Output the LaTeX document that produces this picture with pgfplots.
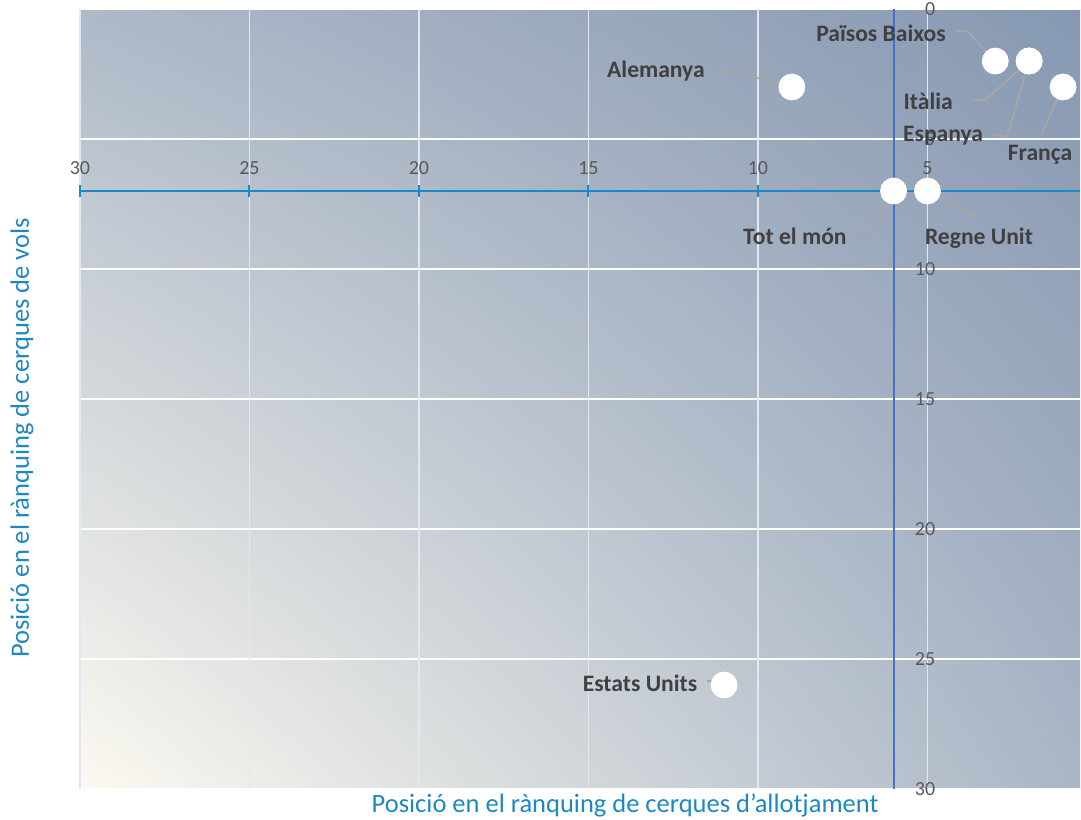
\documentclass[border=0pt]{standalone}
\usepackage{fontspec}
\setmainfont{Carlito}
\usepackage{pgfplots}
\pgfplotsset{compat=1.18}
\usetikzlibrary{shadings}
\definecolor{bgTL}{HTML}{AEB9C8}
\definecolor{bgTR}{HTML}{8798B2}
\definecolor{bgBL}{HTML}{FCF9F0}
\definecolor{bgBR}{HTML}{AAB6C6}
\definecolor{axblue}{HTML}{1B8AC4}
\definecolor{vblue}{HTML}{4472C4}
\definecolor{lbl}{HTML}{404040}
\definecolor{tickc}{HTML}{595959}
\definecolor{lead}{HTML}{A6A6A6}
\definecolor{ttl}{HTML}{1E88C0}
\definecolor{vgrid}{HTML}{E2E8F0}
\begin{document}
\begin{tikzpicture}
\begin{axis}[name=ax, scale only axis, width=500pt, height=390pt,
 xmin=0.5, xmax=30, ymin=0, ymax=30, x dir=reverse, y dir=reverse,
 axis lines=none, ticks=none, clip=false]
% background
\shade[upper left=bgTL, upper right=bgTR, lower left=bgBL, lower right=bgBR]
  (rel axis cs:0,0) rectangle (rel axis cs:1,1);
% grid
\pgfplotsinvokeforeach{0,5,10,15,20,25,30}{
  \draw[white, line width=1pt] (axis cs:30,#1) -- (axis cs:0.5,#1);
}
\pgfplotsinvokeforeach{30,25,20,15,10,5}{
  \draw[vgrid, line width=0.6pt] (axis cs:#1,0) -- (axis cs:#1,30);
}
% axis lines
\draw[axblue, line width=1pt] (axis cs:30,7) -- (axis cs:0.5,7);
\pgfplotsinvokeforeach{30,25,20,15,10,5}{
  \draw[axblue, line width=1pt] ([yshift=-3pt]axis cs:#1,7) -- ([yshift=3pt]axis cs:#1,7);
  \node[anchor=base, inner sep=0, text=tickc, font=\fontsize{10}{12}\selectfont] at ([yshift=8.5pt]axis cs:#1,7) {#1};
}
\draw[vblue, line width=1pt] (axis cs:6,0) -- (axis cs:6,30);
\pgfplotsinvokeforeach{0,5,10,15,20,25,30}{
  \node[anchor=east, inner sep=0, text=tickc, font=\fontsize{10}{12}\selectfont] at ([xshift=21pt]axis cs:6,#1) {#1};
}
% data
\addplot[only marks, mark=*, mark size=6.5pt, mark options={fill=white, draw=white}]
  coordinates {(3,2) (2,2) (2,2) (1,3) (9,3) (6,7) (5,7) (11,26)};
% leaders
\tikzset{ld/.style={lead, line width=0.9pt}}
\draw[ld] (axis cs:4.16,0.85) -- (axis cs:3.83,0.85) -- (axis cs:3,2);
\draw[ld] (axis cs:3.63,3.5) -- (axis cs:3.30,3.5) -- (axis cs:2,2);
\draw[ld] (axis cs:3.01,4.88) -- (axis cs:2.65,4.88) -- (axis cs:2,2);
\draw[ld] (axis cs:1.65,4.85) -- (axis cs:1,3);
\draw[ld] (axis cs:11.27,2.35) -- (axis cs:10.91,2.35) -- (axis cs:9,3);
\draw[ld] (axis cs:7.05,8.69) -- (axis cs:6.70,8.65) -- (axis cs:6,7);
\draw[ld] (axis cs:3.51,8.04) -- (axis cs:5,7);
\draw[ld] (axis cs:11.50,25.85) -- (axis cs:11.27,25.85) -- (axis cs:11,26);
% labels
\tikzset{dl/.style={inner sep=0, text=lbl, font=\bfseries\fontsize{11.8}{14}\selectfont}}
\node[dl] at (axis cs:6.37,0.92) {Països Baixos};
\node[dl] at (axis cs:4.98,3.54) {Itàlia};
\node[dl] at (axis cs:4.54,4.88) {Espanya};
\node[dl] at (axis cs:1.68,5.62) {França};
\node[dl] at (axis cs:13.01,2.38) {Alemanya};
\node[dl] at (axis cs:8.91,8.73) {Tot el món};
\node[dl] at (axis cs:3.48,8.81) {Regne Unit};
\node[dl] at (axis cs:13.48,25.92) {Estats Units};
% titles
\node[rotate=90, inner sep=0, text=ttl, font=\fontsize{13.25}{16}\selectfont] at (axis cs:31.71,16.5) {Posició en el rànquing de cerques de vols};
\node[inner sep=0, text=ttl, font=\fontsize{13.25}{16}\selectfont] at (axis cs:13.92,30.65) {Posició en el rànquing de cerques d’allotjament};
\end{axis}
\pgfresetboundingbox
\path[use as bounding box] ([shift={(-40pt,-15pt)}]ax.south west) rectangle ([shift={(0.5pt,4.5pt)}]ax.north east);
\end{tikzpicture}
\end{document}
